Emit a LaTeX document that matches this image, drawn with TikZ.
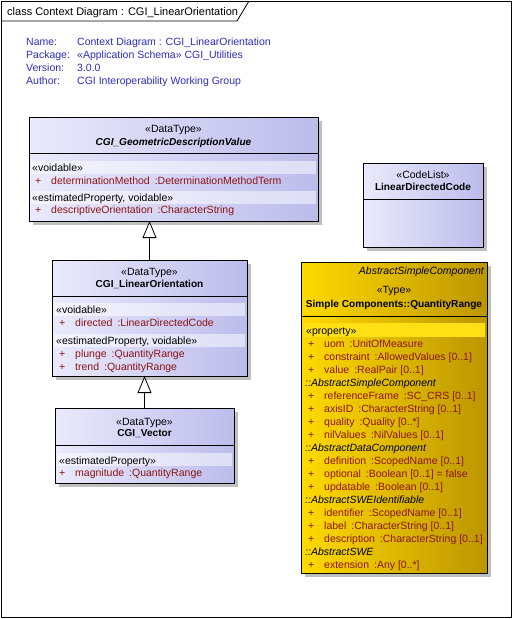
\documentclass[tikz,border=0pt]{standalone}
\usepackage{fontspec}
\setmainfont{Liberation Sans}
\usetikzlibrary{arrows.meta,shadows}
\definecolor{attrc}{RGB}{140,20,20}
\definecolor{infoc}{RGB}{45,45,190}
\definecolor{dtl}{RGB}{234,234,252}
\definecolor{dtr}{RGB}{188,188,236}
\definecolor{ql}{RGB}{255,218,0}
\definecolor{qrc}{RGB}{188,150,0}
\definecolor{qband}{RGB}{255,224,20}
\definecolor{shc}{RGB}{192,192,192}
\newcommand\fs{\fontsize{10.5}{12}\selectfont}
\newcommand\bfs{\fontsize{10.1}{12}\selectfont\bfseries}
\newcommand\attrline[4]{\node[tx,text=attrc] (#1) at (#2) {\makebox[16pt][l]{+}#3\hspace{5pt}:#4};}
\tikzset{
  cls/.style={draw=black, line width=0.8pt, anchor=north west, inner sep=0pt, outer sep=0pt,
    left color=dtl, right color=dtr,
    drop shadow={shadow xshift=4pt,shadow yshift=-4pt,fill=shc,opacity=1}},
  ycls/.style={cls, left color=ql, right color=qrc},
  tx/.style={inner sep=0pt, anchor=base west, font=\fs},
  tc/.style={tx, anchor=base},
  te/.style={tx, anchor=base east},
  bandb/.style={fill=white, opacity=0.5},
  bandy/.style={fill=qband},
  sep/.style={line width=0.8pt},
  gen/.style={line width=0.8pt, -{Triangle[length=17pt,width=14pt,fill=white]}}
}
\begin{document}
\begin{tikzpicture}[x=1pt,y=-1pt]
\useasboundingbox (0,0) rectangle (513,619);
\fill[white] (0,0) rectangle (513,619);
% frame
\draw[line width=0.8pt] (1,1) rectangle (511,617);
\draw[line width=0.8pt] (1,21) -- (237,21) -- (249,1);
\node[tx,font=\fontsize{11}{13}\selectfont] (title) at (7,15) {class Context Diagram : CGI\_LinearOrientation};
% info
\node[tx,text=infoc] (n1) at (26,45.75) {Name:};
\node[tx,text=infoc] (n2) at (26,58.75) {Package:};
\node[tx,text=infoc] (n3) at (26,71.75) {Version:};
\node[tx,text=infoc] (n4) at (26,84.75) {Author:};
\node[tx,text=infoc] (v1) at (77,45.75) {Context Diagram : CGI\_LinearOrientation};
\node[tx,text=infoc] (v2) at (77,58.75) {«Application Schema» CGI\_Utilities};
\node[tx,text=infoc] (v3) at (77,71.75) {3.0.0};
\node[tx,text=infoc] (v4) at (77,84.75) {CGI Interoperability Working Group};
% boxes
\node[cls, minimum width=289pt, minimum height=104pt] (gdv) at (29,117) {};
\node[cls, minimum width=195pt, minimum height=116pt] (lo) at (52,260) {};
\node[cls, minimum width=179pt, minimum height=75pt] (cv) at (55,408) {};
\node[cls, minimum width=120pt, minimum height=84pt] (cl) at (363,163) {};
\node[ycls, minimum width=186pt, minimum height=311pt] (qr) at (301,262) {};
% bands
\fill[bandb] (31,161) rectangle (316,174);
\fill[bandb] (31,191) rectangle (316,204);
\fill[bandb] (54,303) rectangle (245,316);
\fill[bandb] (54,334) rectangle (245,347);
\fill[bandb] (57,453) rectangle (232,466);
\fill[bandy] (303,323) rectangle (485,337);
% separators
\draw[sep] (gdv.west |- 0,153) -- (gdv.east |- 0,153);
\draw[sep] (lo.west |- 0,296) -- (lo.east |- 0,296);
\draw[sep] (cv.west |- 0,445) -- (cv.east |- 0,445);
\draw[sep] (cl.west |- 0,199) -- (cl.east |- 0,199);
\draw[sep] (qr.west |- 0,316) -- (qr.east |- 0,316);
% gdv texts
\node[tc] (g1) at (173.5,132.75) {«DataType»};
\node[tc] (g2) at (173.5,145.75) {\bfs\itshape CGI\_GeometricDescriptionValue};
\node[tx] (g3) at (32,171.75) {«voidable»};
\attrline{g4}{35,184.75}{determinationMethod}{DeterminationMethodTerm}
\node[tx] (g5) at (32,201.75) {«estimatedProperty, voidable»};
\attrline{g6}{35,213.75}{descriptiveOrientation}{CharacterString}
% lo texts
\node[tc] (l1) at (149.5,275.75) {«DataType»};
\node[tc] (l2) at (149.5,287.75) {\bfs CGI\_LinearOrientation};
\node[tx] (l3) at (56,313.75) {«voidable»};
\attrline{l4}{59,326.75}{directed}{LinearDirectedCode}
\node[tx] (l5) at (56,344.75) {«estimatedProperty, voidable»};
\attrline{l6}{59,357.75}{plunge}{QuantityRange}
\attrline{l7}{59,370.75}{trend}{QuantityRange}
% cv texts
\node[tc] (c1) at (144.5,425.75) {«DataType»};
\node[tc] (c2) at (144.5,436.75) {\bfs CGI\_Vector};
\node[tx] (c3) at (59,464.75) {«estimatedProperty»};
\attrline{c4}{59,476.75}{magnitude}{QuantityRange}
% cl texts
\node[tc] (k1) at (423,178.75) {«CodeList»};
\node[tc] (k2) at (423,190.75) {\bfs LinearDirectedCode};
% qr texts
\node[te] (q0) at (484,274.75) {\itshape AbstractSimpleComponent};
\node[tc] (qa) at (394,293.75) {«Type»};
\node[tc] (qb) at (394,307.75) {\bfs Simple Components::QuantityRange};
\node[tx] (qc) at (306,334.75) {«property»};
\attrline{r0}{308,347.25}{uom}{UnitOfMeasure}
\attrline{r1}{308,360.25}{constraint}{AllowedValues [0..1]}
\attrline{r2}{308,373.25}{value}{RealPair [0..1]}
\node[tx] (r3) at (305,386.25) {\itshape ::AbstractSimpleComponent};
\attrline{r4}{308,399.25}{referenceFrame}{SC\_CRS [0..1]}
\attrline{r5}{308,412.25}{axisID}{CharacterString [0..1]}
\attrline{r6}{308,425.25}{quality}{Quality [0..*]}
\attrline{r7}{308,438.25}{nilValues}{NilValues [0..1]}
\node[tx] (r8) at (305,451.25) {\itshape ::AbstractDataComponent};
\attrline{r9}{308,464.25}{definition}{ScopedName [0..1]}
\attrline{r10}{308,477.25}{optional}{Boolean [0..1] = false}
\attrline{r11}{308,490.25}{updatable}{Boolean [0..1]}
\node[tx] (r12) at (305,503.25) {\itshape ::AbstractSWEIdentifiable};
\attrline{r13}{308,516.25}{identifier}{ScopedName [0..1]}
\attrline{r14}{308,529.25}{label}{CharacterString [0..1]}
\attrline{r15}{308,542.25}{description}{CharacterString [0..1]}
\node[tx] (r16) at (305,555.25) {\itshape ::AbstractSWE};
\attrline{r17}{308,568.25}{extension}{Any [0..*]}
% generalizations
\draw[gen] (lo.north) -- (lo.north |- gdv.south);
\draw[gen] (cv.north) -- (cv.north |- lo.south);
\end{tikzpicture}
\end{document}
